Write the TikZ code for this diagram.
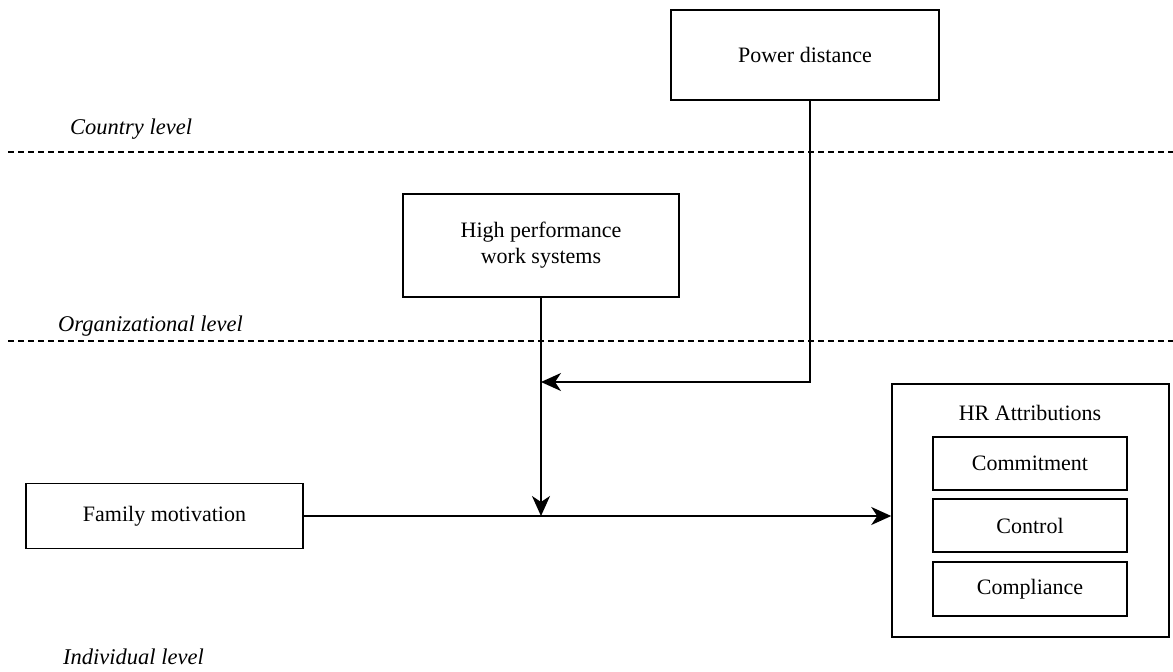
\documentclass[tikz,border=0pt]{standalone}
\usepackage{fontspec}
\setmainfont{Liberation Serif}
\usetikzlibrary{arrows.meta}
\begin{document}
\begin{tikzpicture}[x=1pt,y=-1pt,
  box/.style={draw, line width=1.5pt, align=center, inner sep=0pt, font=\fontsize{22}{26}\selectfont},
  lvl/.style={anchor=west, inner sep=0pt, font=\fontsize{22.5}{26}\selectfont\itshape},
  sep/.style={line width=1.2pt, dash pattern=on 6pt off 4pt},
  conn/.style={line width=1.8pt},
  arr/.style={conn, -{Stealth[length=20pt, width=18pt, inset=6pt]}}]
\useasboundingbox (0,0) rectangle (1173,672);
% level labels and separators
\node[lvl] (country) at (70,129) {Country level};
\node[lvl] (org) at (58,326) {Organizational level};
\node[lvl] (indiv) at (63,657) {Individual level};
\coordinate (d1a) at (8,152);
\coordinate (d1b) at (1173,152);
\coordinate (d2a) at (8,341);
\coordinate (d2b) at (1173,341);
\draw[sep] (d1a) -- (d1b);
\draw[sep] (d2a) -- (d2b);
% boxes
\node[box, minimum width=268pt, minimum height=90pt] (pd) at (805,55) {Power distance};
\node[box, minimum width=276pt, minimum height=103pt] (hpws) at (541,245.5) {High performance\\work systems};
\node[box, minimum width=277pt, minimum height=65pt] (fm) at (164.5,516) {Family motivation};
\node[box, minimum width=277pt, minimum height=253pt] (hr) at (1030.5,510.5) {};
\node[inner sep=0pt, font=\fontsize{22}{26}\selectfont] (hrt) at (1030,413) {HR Attributions};
\node[box, minimum width=194pt, minimum height=53pt] (com) at (1030,463.5) {Commitment};
\node[box, minimum width=194pt, minimum height=53pt] (ctl) at (1030,525.5) {Control};
\node[box, minimum width=194pt, minimum height=54pt] (cpl) at (1030,589) {Compliance};
% connectors
\coordinate (pdb) at ([xshift=5pt]pd.south);
\coordinate (m1) at (hpws.south |- 0,382);
\coordinate (m2) at (hpws.south |- fm.east);
\draw[arr] (pdb) |- (m1);
\draw[arr] (hpws.south) -- (m2);
\draw[arr] (fm.east) -- (fm.east -| hr.west);
\end{tikzpicture}
\end{document}
